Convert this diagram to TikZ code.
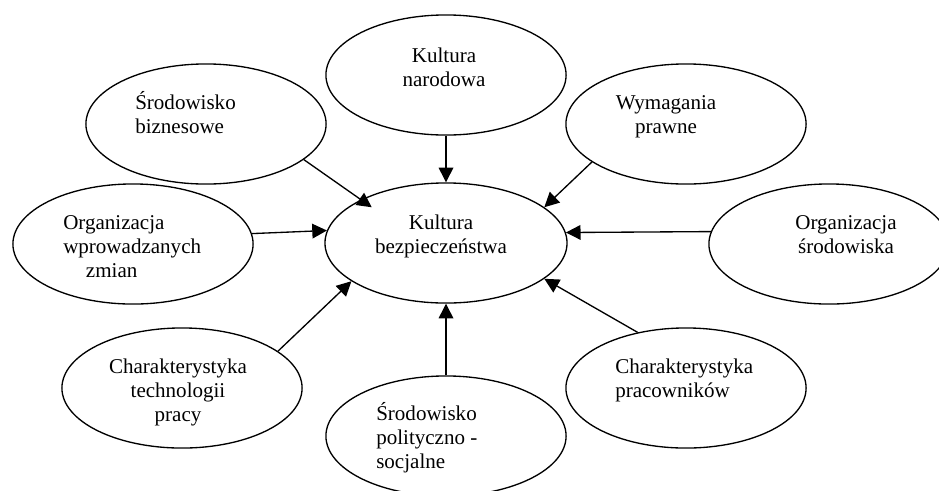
\documentclass[tikz,border=0pt]{standalone}
\usepackage{fontspec}
\setmainfont{Liberation Serif}
\usetikzlibrary{shapes.geometric,arrows.meta}

\tikzset{
  oval/.style={draw, ellipse, line width=1pt, inner sep=0pt,
    minimum width=6.34cm, minimum height=3.17cm},
  kbox/.style={oval, minimum width=6.39cm},
  txt/.style={inner sep=0pt, anchor=base, font=\fontsize{15.8}{18}\selectfont},
  arr/.style={-{Triangle[length=11pt,width=11pt]}, line width=1pt}
}

\begin{document}
\begin{tikzpicture}[x=0.0264cm, y=-0.0264cm]
    \useasboundingbox (0,0) rectangle (939,490);
    \clip (0,0) rectangle (939,490);

    % ellipses
    \node[oval] (nar) at (446,75) {};
    \node[oval] (biz) at (206,124) {};
    \node[oval] (wym) at (686,124) {};
    \node[oval] (orgz) at (133,244) {};
    \node[kbox] (kb) at (446,243) {};
    \node[oval] (orgs) at (829,244) {};
    \node[oval] (tech) at (182,388) {};
    \node[oval] (pol) at (446,436) {};
    \node[oval] (prac) at (686,388) {};

    % texts (placed at the baseline of the last line)
    \node[txt, align=center] (t-nar) at (444,86) {Kultura\\narodowa};
    \node[txt, align=left, anchor=base west] (t-biz) at (135,133) {Środowisko\\biznesowe};
    \node[txt, align=center] (t-wym) at (666,133) {Wymagania\\prawne};
    \node[txt, align=left, anchor=base west] (t-orgz) at (63,277) {Organizacja\\wprowadzanych\\\hspace*{0.6cm}zmian};
    \node[txt, align=center] (t-kb) at (441,253) {Kultura\\bezpieczeństwa};
    \node[txt, align=center] (t-orgs) at (846,253) {Organizacja\\środowiska};
    \node[txt, align=center] (t-tech) at (178,421) {Charakterystyka\\technologii\\pracy};
    \node[txt, align=left, anchor=base west] (t-pol) at (376,468) {Środowisko\\polityczno -\\socjalne};
    \node[txt, align=left, anchor=base west] (t-prac) at (615,397) {Charakterystyka\\pracowników};

    % arrows
    \draw[arr] (nar.south) -- (kb.north);
    \draw[arr, shorten >=-10pt] (biz.-20.6) -- (kb.153.2);
    \draw[arr] (wym.-158.9) -- (kb.20.6);
    \draw[arr] (orgz.5.2) -- (kb.174.8);
    \draw[arr] (orgs.174.8) -- (kb.5.2);
    \draw[arr] (tech.21.6) -- (kb.-158.6);
    \draw[arr] (pol.north) -- (kb.south);
    \draw[arr] (prac.131.1) -- (kb.-20.9);
\end{tikzpicture}
\end{document}
